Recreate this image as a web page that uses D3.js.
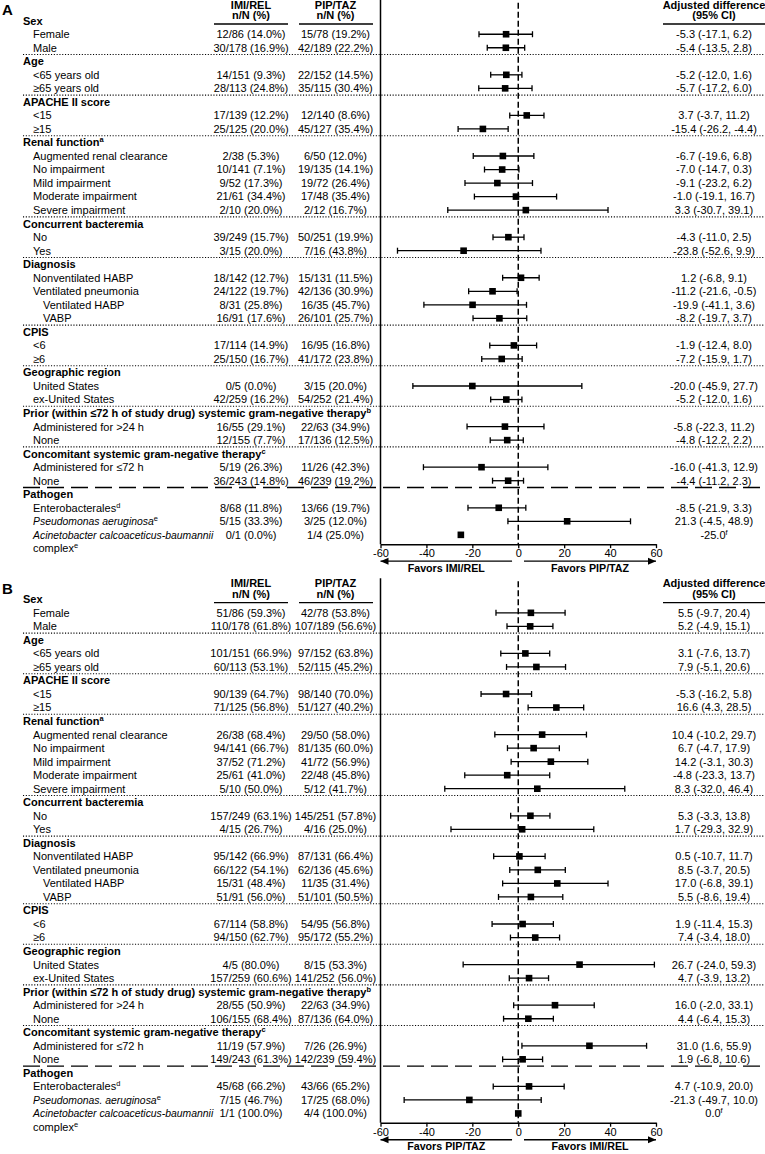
<!DOCTYPE html>
<html>
<head>
<meta charset="utf-8">
<script src="https://cdn.jsdelivr.net/npm/d3@7"></script>
<style>
body { margin: 0; background: #fff; }
text { font-family: "Liberation Sans", Arial, sans-serif; fill: #000; }
</style>
</head>
<body>
<div id="chart"></div>
<script>
// Row labels: [text, level]. level 0 = group heading.
// *..* = italic, ^x = superscript, | = line break
const rowLabels = [
  ["Sex", 0], ["Female", 1], ["Male", 1],
  ["Age", 0], ["<65 years old", 1], ["≥65 years old", 1],
  ["APACHE II score", 0], ["<15", 1], ["≥15", 1],
  ["Renal function^a", 0], ["Augmented renal clearance", 1], ["No impairment", 1],
  ["Mild impairment", 1], ["Moderate impairment", 1], ["Severe impairment", 1],
  ["Concurrent bacteremia", 0], ["No", 1], ["Yes", 1],
  ["Diagnosis", 0], ["Nonventilated HABP", 1], ["Ventilated pneumonia", 1],
  ["Ventilated HABP", 2], ["VABP", 2],
  ["CPIS", 0], ["<6", 1], ["≥6", 1],
  ["Geographic region", 0], ["United States", 1], ["ex-United States", 1],
  ["Prior (within ≤72 h of study drug) systemic gram-negative therapy^b", 0],
  ["Administered for >24 h", 1], ["None", 1],
  ["Concomitant systemic gram-negative therapy^c", 0],
  ["Administered for ≤72 h", 1], ["None", 1],
  ["Pathogen", 0], ["Enterobacterales^d", 1], ["PSEUDO", 1],
  ["*Acinetobacter calcoaceticus-baumannii*|complex^e", 1]
];
const pseudoA = "*Pseudomonas aeruginosa*^e";
const pseudoB = "*Pseudomonas. aeruginosa*^e";

// Panel A (data rows only, in order)
const imiA = ["12/86 (14.0%)", "30/178 (16.9%)", "14/151 (9.3%)", "28/113 (24.8%)",
  "17/139 (12.2%)", "25/125 (20.0%)", "2/38 (5.3%)", "10/141 (7.1%)", "9/52 (17.3%)",
  "21/61 (34.4%)", "2/10 (20.0%)", "39/249 (15.7%)", "3/15 (20.0%)", "18/142 (12.7%)",
  "24/122 (19.7%)", "8/31 (25.8%)", "16/91 (17.6%)", "17/114 (14.9%)", "25/150 (16.7%)",
  "0/5 (0.0%)", "42/259 (16.2%)", "16/55 (29.1%)", "12/155 (7.7%)", "5/19 (26.3%)",
  "36/243 (14.8%)", "8/68 (11.8%)", "5/15 (33.3%)", "0/1 (0.0%)"];
const pipA = ["15/78 (19.2%)", "42/189 (22.2%)", "22/152 (14.5%)", "35/115 (30.4%)",
  "12/140 (8.6%)", "45/127 (35.4%)", "6/50 (12.0%)", "19/135 (14.1%)", "19/72 (26.4%)",
  "17/48 (35.4%)", "2/12 (16.7%)", "50/251 (19.9%)", "7/16 (43.8%)", "15/131 (11.5%)",
  "42/136 (30.9%)", "16/35 (45.7%)", "26/101 (25.7%)", "16/95 (16.8%)", "41/172 (23.8%)",
  "3/15 (20.0%)", "54/252 (21.4%)", "22/63 (34.9%)", "17/136 (12.5%)", "11/26 (42.3%)",
  "46/239 (19.2%)", "13/66 (19.7%)", "3/25 (12.0%)", "1/4 (25.0%)"];
const estA = [-5.3, -5.4, -5.2, -5.7, 3.7, -15.4, -6.7, -7.0, -9.1, -1.0, 3.3, -4.3, -23.8,
  1.2, -11.2, -19.9, -8.2, -1.9, -7.2, -20.0, -5.2, -5.8, -4.8, -16.0, -4.4, -8.5, 21.3, -25.0];
const loA = [-17.1, -13.5, -12.0, -17.2, -3.7, -26.2, -19.6, -14.7, -23.2, -19.1, -30.7, -11.0,
  -52.6, -6.8, -21.6, -41.1, -19.7, -12.4, -15.9, -45.9, -12.0, -22.3, -12.2, -41.3, -11.2,
  -21.9, -4.5, null];
const hiA = [6.2, 2.8, 1.6, 6.0, 11.2, -4.4, 6.8, 0.3, 6.2, 16.7, 39.1, 2.5, 9.9, 9.1, -0.5,
  3.6, 3.7, 8.0, 1.7, 27.7, 1.6, 11.2, 2.2, 12.9, 2.3, 3.3, 48.9, null];

// Panel B
const imiB = ["51/86 (59.3%)", "110/178 (61.8%)", "101/151 (66.9%)", "60/113 (53.1%)",
  "90/139 (64.7%)", "71/125 (56.8%)", "26/38 (68.4%)", "94/141 (66.7%)", "37/52 (71.2%)",
  "25/61 (41.0%)", "5/10 (50.0%)", "157/249 (63.1%)", "4/15 (26.7%)", "95/142 (66.9%)",
  "66/122 (54.1%)", "15/31 (48.4%)", "51/91 (56.0%)", "67/114 (58.8%)", "94/150 (62.7%)",
  "4/5 (80.0%)", "157/259 (60.6%)", "28/55 (50.9%)", "106/155 (68.4%)", "11/19 (57.9%)",
  "149/243 (61.3%)", "45/68 (66.2%)", "7/15 (46.7%)", "1/1 (100.0%)"];
const pipB = ["42/78 (53.8%)", "107/189 (56.6%)", "97/152 (63.8%)", "52/115 (45.2%)",
  "98/140 (70.0%)", "51/127 (40.2%)", "29/50 (58.0%)", "81/135 (60.0%)", "41/72 (56.9%)",
  "22/48 (45.8%)", "5/12 (41.7%)", "145/251 (57.8%)", "4/16 (25.0%)", "87/131 (66.4%)",
  "62/136 (45.6%)", "11/35 (31.4%)", "51/101 (50.5%)", "54/95 (56.8%)", "95/172 (55.2%)",
  "8/15 (53.3%)", "141/252 (56.0%)", "22/63 (34.9%)", "87/136 (64.0%)", "7/26 (26.9%)",
  "142/239 (59.4%)", "43/66 (65.2%)", "17/25 (68.0%)", "4/4 (100.0%)"];
const estB = [5.5, 5.2, 3.1, 7.9, -5.3, 16.6, 10.4, 6.7, 14.2, -4.8, 8.3, 5.3, 1.7, 0.5, 8.5,
  17.0, 5.5, 1.9, 7.4, 26.7, 4.7, 16.0, 4.4, 31.0, 1.9, 4.7, -21.3, 0.0];
const loB = [-9.7, -4.9, -7.6, -5.1, -16.2, 4.3, -10.2, -4.7, -3.1, -23.3, -32.0, -3.3, -29.3,
  -10.7, -3.7, -6.8, -8.6, -11.4, -3.4, -24.0, -3.9, -2.0, -6.4, 1.6, -6.8, -10.9, -49.7, null];
const hiB = [20.4, 15.1, 13.7, 20.6, 5.8, 28.5, 29.7, 17.9, 30.3, 13.7, 46.4, 13.8, 32.9, 11.7,
  20.5, 39.1, 19.4, 15.3, 18.0, 59.3, 13.2, 33.1, 15.3, 55.9, 10.6, 20.0, 10.0, null];

const xTicks = [-60, -40, -20, 0, 20, 40, 60];

// layout
const width = 765, height = 1154;
const fs = 11, pitch = 13.53;

const svg = d3.create("svg").attr("width", width).attr("height", height);

const x = d3.scaleLinear().domain([-60, 60]).range([380.5, 656]);

const fmt = v => v.toFixed(1);

// write a label with *italic* and ^sup parts
function richText(sel, str) {
  const parts = str.split(/(\*[^*]+\*|\^[a-z])/).filter(s => s.length);
  let sup = false;
  parts.forEach(p => {
    if (p[0] == "^") {
      sel.append("tspan").attr("font-size", fs * 0.68).attr("dy", -4).text(p.slice(1));
      sup = true;
    } else {
      const t = sel.append("tspan").text(p[0] == "*" ? p.slice(1, -1) : p);
      if (p[0] == "*") t.attr("font-style", "italic").attr("font-size", 10.4);
      if (sup) { t.attr("dy", 4); sup = false; }
    }
  });
}

function drawPanel(cfg) {
  const r0 = cfg.top;
  const g = svg.append("g");
  const rowY = i => r0 + i * pitch;
  const axisY = rowY(rowLabels.length - 1) + 9.3;

  g.append("text").text(cfg.letter).attr("x", 2).attr("y", r0 - 5.5)
    .attr("font-size", 15).attr("font-weight", "bold");

  // column headers
  const heads = [[251, "IMI/REL", 214, 288], [335.5, "PIP/TAZ", 299, 373], [714, "Adjusted difference", 663, 765]];
  heads.forEach(([cx, t, x1, x2]) => {
    g.append("text").text(t).attr("x", cx).attr("y", r0 - 12)
      .attr("text-anchor", "middle").attr("font-size", fs).attr("font-weight", "bold");
    g.append("text").text(t == "Adjusted difference" ? "(95% CI)" : "n/N (%)")
      .attr("x", cx).attr("y", r0 - 1.7)
      .attr("text-anchor", "middle").attr("font-size", fs).attr("font-weight", "bold");
    g.append("line").attr("x1", x1).attr("x2", x2).attr("y1", r0 + 3.3).attr("y2", r0 + 3.3)
      .attr("stroke", "#000").attr("stroke-width", 1.4);
  });

  // separators before every heading except the first
  const lastHead = d3.max(rowLabels.map((d, i) => d[1] == 0 ? i : -1));
  rowLabels.forEach((d, i) => {
    if (d[1] != 0 || i == 0) return;
    const y = rowY(i) - pitch / 2;
    g.append("line").attr("x1", 23).attr("x2", width).attr("y1", y).attr("y2", y)
      .attr("stroke", "#000")
      .attr("stroke-width", i == lastHead ? 1.4 : 1.1)
      .attr("stroke-dasharray", i == lastHead ? "17,7" : "1.1,1.7");
  });

  // axes lines
  g.append("line").attr("x1", x(-60)).attr("x2", x(-60)).attr("y1", r0 - 21).attr("y2", axisY)
    .attr("stroke", "#000").attr("stroke-width", 1.5);
  g.append("line").attr("x1", x(0)).attr("x2", x(0)).attr("y1", r0 - 18).attr("y2", axisY)
    .attr("stroke", "#000").attr("stroke-width", 1.5).attr("stroke-dasharray", "6,3");

  let k = 0;
  rowLabels.forEach((d, i) => {
    const y = rowY(i);
    const label = d[0] == "PSEUDO" ? cfg.pseudo : d[0];
    const lines = label.split("|");
    lines.forEach((ln, j) => {
      const t = g.append("text").attr("x", 23 + d[1] * 10).attr("y", y + 3.9 + j * pitch)
        .attr("font-size", fs).attr("font-weight", d[1] == 0 ? "bold" : null);
      richText(t, ln);
    });
    if (d[1] == 0) return;

    // count columns
    g.append("text").text(cfg.imi[k]).attr("x", 251).attr("y", y + 3.9)
      .attr("text-anchor", "middle").attr("font-size", fs);
    g.append("text").text(cfg.pip[k]).attr("x", 335.5).attr("y", y + 3.9)
      .attr("text-anchor", "middle").attr("font-size", fs);

    const e = cfg.est[k], lo = cfg.lo[k], hi = cfg.hi[k];
    const ci = g.append("text").attr("x", 714).attr("y", y + 3.9)
      .attr("text-anchor", "middle").attr("font-size", fs);
    if (lo == null) {
      richText(ci, fmt(e) + "^f");
    } else {
      ci.text(`${fmt(e)} (${fmt(lo)}, ${fmt(hi)})`);
      g.append("line").attr("x1", x(lo)).attr("x2", x(hi)).attr("y1", y).attr("y2", y)
        .attr("stroke", "#000").attr("stroke-width", 1.3);
      [lo, hi].forEach(v => g.append("line").attr("x1", x(v)).attr("x2", x(v))
        .attr("y1", y - 3).attr("y2", y + 3).attr("stroke", "#000").attr("stroke-width", 1.3));
    }
    g.append("rect").attr("x", x(e) - 3.3).attr("y", y - 3.3).attr("width", 6.6).attr("height", 6.6)
      .attr("fill", "#000");
    k++;
  });

  // x axis
  const ax = g.append("g").attr("transform", `translate(0,${axisY})`)
    .call(d3.axisBottom(x).tickValues(xTicks).tickSize(4).tickSizeOuter(0).tickPadding(1)
      .tickFormat(d => String(d)));
  ax.attr("font-size", 11).attr("font-family", "Liberation Sans, Arial, sans-serif");
  ax.select(".domain").attr("stroke-width", 1.5);
  ax.selectAll(".tick line").attr("stroke-width", 1.3);
  ax.selectAll(".tick text").attr("fill", "#000");

  // favors arrows
  const ay = axisY + 17;
  const arrows = [[-60, -2.7, cfg.favorsLeft], [2.5, 60, cfg.favorsRight]];
  arrows.forEach(([a, b, label], j) => {
    g.append("line").attr("x1", x(a)).attr("x2", x(b)).attr("y1", ay).attr("y2", ay)
      .attr("stroke", "#000").attr("stroke-width", 1.4);
    const tip = j == 0 ? x(a) : x(b), dir = j == 0 ? 1 : -1;
    g.append("path").attr("d", `M${tip},${ay}L${tip + dir * 8},${ay - 3.5}L${tip + dir * 8},${ay + 3.5}Z`)
      .attr("fill", "#000");
    g.append("text").text(label).attr("x", (x(a) + x(b)) / 2).attr("y", axisY + 27.5)
      .attr("text-anchor", "middle").attr("font-size", 10.7).attr("font-weight", "bold");
  });
}

drawPanel({ top: 20.7, letter: "A", pseudo: pseudoA, imi: imiA, pip: pipA, est: estA, lo: loA, hi: hiA,
  favorsLeft: "Favors IMI/REL", favorsRight: "Favors PIP/TAZ" });
drawPanel({ top: 599.3, letter: "B", pseudo: pseudoB, imi: imiB, pip: pipB, est: estB, lo: loB, hi: hiB,
  favorsLeft: "Favors PIP/TAZ", favorsRight: "Favors IMI/REL" });

document.getElementById("chart").append(svg.node());
</script>
</body>
</html>
